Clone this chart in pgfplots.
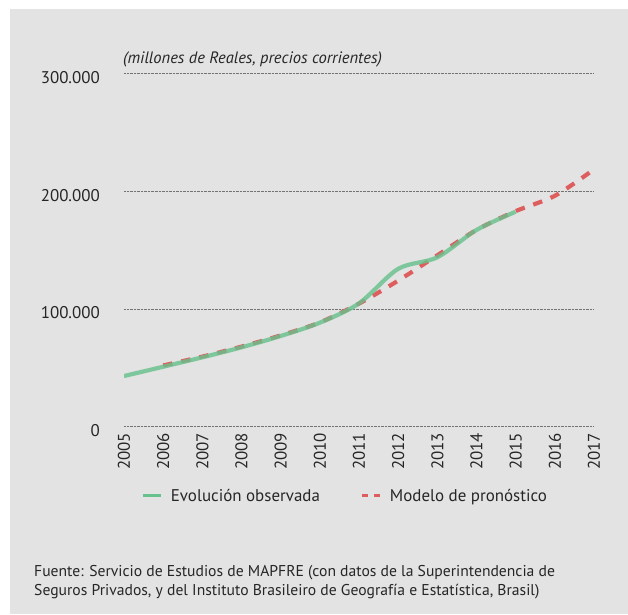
\documentclass[border=0pt]{standalone}
\usepackage{pgfplots}
\pgfplotsset{compat=1.18}
\usepackage{fontspec}
\setmainfont{PT Sans}

\definecolor{panel}{RGB}{226,227,226}
\definecolor{obs}{RGB}{102,193,140}
\definecolor{model}{RGB}{222,94,96}
\definecolor{txt}{RGB}{38,38,38}

\begin{document}
\begin{tikzpicture}
\useasboundingbox (0,0) rectangle (628bp,-615bp);
\fill[white] (0,0) rectangle (628bp,-615bp);
\fill[panel] (10bp,-9bp) rectangle (628bp,-614bp);

\begin{axis}[
  at={(124bp,-426.7bp)}, anchor=south west,
  scale only axis,
  width=470bp, height=353.4bp,
  xmin=2005, xmax=2017,
  ymin=0, ymax=300000,
  scaled y ticks=false,
  axis line style={draw=none},
  major tick length=0pt,
  ymajorgrids=true,
  grid style={densely dotted, black!55, line width=0.7pt},
  xtick={2005,2006,2007,2008,2009,2010,2011,2012,2013,2014,2015,2016,2017},
  xticklabels={2005,2006,2007,2008,2009,2010,2011,2012,2013,2014,2015,2016,2017},
  ytick={0,100000,200000,300000},
  yticklabels={0,100.000,200.000,300.000},
  /pgf/number format/assume math mode=true,
  ticklabel style={font=\fontsize{17}{20}\selectfont, text=txt},
  xticklabel style={rotate=90, anchor=east, inner sep=0pt},
  xticklabel shift=6bp,
  yticklabel style={anchor=east, inner sep=0pt, yshift=-4bp},
  yticklabel shift=24bp,
  legend image code/.code={\draw[#1] (0bp,0bp) -- (18bp,0bp);},
  legend columns=2,
  legend style={draw=none, fill=none, inner sep=0pt,
    at={(axis description cs:0.0377,-0.196)}, anchor=west,
    font=\fontsize{17}{20}\selectfont, text=txt,
    nodes={inner sep=0pt},
    /tikz/every odd column/.append style={column sep=8bp},
    /tikz/every even column/.append style={column sep=41bp}},
]

\addlegendimage{obs, line width=3pt}
\addlegendentry{Evolución observada}
\addlegendimage{model, line width=3pt, dash pattern=on 6bp off 5.7bp}
\addlegendentry{Modelo de pronóstico}

% modelo de pronostico
\addplot[model, line width=4.2pt, dash pattern=on 9.5bp off 9bp, smooth, forget plot]
coordinates {
  (2006,52000) (2007,59500) (2008,68000) (2009,77500) (2010,88500)
  (2011,104500) (2012,124000) (2013,145500) (2014,167000) (2015,183000)
  (2016,196000) (2017,218500)
};

% evolucion observada
\addplot[obs, line width=4.2pt, opacity=0.8, smooth, forget plot]
coordinates {
  (2005,43000) (2006,50900) (2007,58900) (2008,67400) (2009,77000)
  (2010,88300) (2011,104700) (2012,134000) (2013,143800) (2014,167000)
  (2015,182500)
};

\end{axis}

\node[anchor=west, inner sep=0pt, text=txt, font=\fontsize{16.6}{19}\selectfont\itshape]
  at (123bp,-59bp) {(millones de Reales, precios corrientes)};
\node[anchor=west, inner sep=0pt, text=txt, font=\fontsize{15.7}{18}\selectfont]
  at (34bp,-573bp) {Fuente: Servicio de Estudios de MAPFRE (con datos de la Superintendencia de};
\node[anchor=west, inner sep=0pt, text=txt, font=\fontsize{15.7}{18}\selectfont]
  at (34bp,-592bp) {Seguros Privados, y del Instituto Brasileiro de Geografía e Estatística, Brasil)};
\end{tikzpicture}
\end{document}
